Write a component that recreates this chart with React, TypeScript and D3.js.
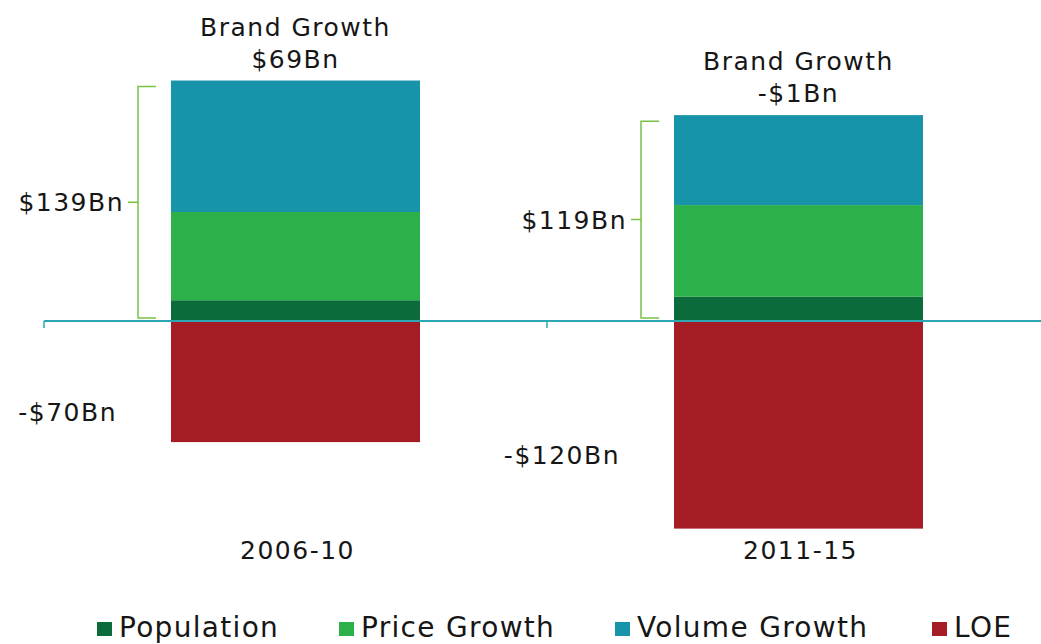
import React from 'react';
import * as d3 from 'd3';

const periods = ['2006-10', '2011-15'];
const population = [12, 14];
const priceGrowth = [51, 53];
const volumeGrowth = [76, 52];
const loe = [-70, -120];
const brandGrowth = [69, -1];
const seriesNames = ['Population', 'Price Growth', 'Volume Growth', 'LOE'];
const seriesColors = ['#0b6b3a', '#2cb04a', '#1794a9', '#a51c24'];

const W = 1041;
const H = 644;
const FONT = '"DejaVu Sans", Verdana, sans-serif';

export default function App() {
  const x = d3.scaleBand().domain(periods).range([44, 1050]).paddingInner(0).paddingOuter(0);
  const barW = 249;
  const y = d3.scaleLinear().domain([-140, 160]).range([563.2, 44.2]);
  const y0 = y(0);

  const fmt = (v: number) => (v < 0 ? `-$${Math.abs(v)}Bn` : `$${v}Bn`);

  const stacks = periods.map((p, i) => {
    const parts = [population[i], priceGrowth[i], volumeGrowth[i]];
    let acc = 0;
    const segs = parts.map((v, k) => {
      const s = { y1: acc, y2: acc + v, color: seriesColors[k] };
      acc += v;
      return s;
    });
    return { p, segs, total: acc, loe: loe[i], brand: brandGrowth[i] };
  });

  const legendX = [97, 339, 615, 932];
  const txt = { fontSize: 25, fill: '#161616', letterSpacing: 1.5 } as const;

  return (
    <svg width={W} height={H} style={{ position: 'absolute', left: 0, top: 0, background: '#fff' }} fontFamily={FONT}>
      {stacks.map((d, i) => {
        const cx = (x(d.p) as number) + x.bandwidth() / 2;
        const bx = cx - barW / 2;
        const top = y(d.total);
        const brX = bx - 33;
        const brTop = top + 6;
        const brBot = y0 - 3;
        const brMid = (brTop + brBot) / 2;
        return (
          <g key={d.p}>
            {d.segs.map((s, k) => (
              <rect key={k} x={bx} y={y(s.y2)} width={barW} height={y(s.y1) - y(s.y2)} fill={s.color} />
            ))}
            <rect x={bx} y={y0} width={barW} height={y(d.loe) - y0} fill={seriesColors[3]} />
            {/* bracket */}
            <path
              d={`M${brX + 18},${brTop}H${brX}V${brBot}H${brX + 18}M${brX},${brMid}H${brX - 10}`}
              fill="none"
              stroke="#7ac143"
              strokeWidth={1.5}
            />
            <text x={brX - 14} y={brMid + 9} textAnchor="end" {...txt}>
              {fmt(d.total)}
            </text>
            <text x={bx - 54} y={(y0 + y(d.loe)) / 2 + 39} textAnchor="end" {...txt}>
              {fmt(d.loe)}
            </text>
            <text x={cx} y={top - 45} textAnchor="middle" {...txt}>
              Brand Growth
            </text>
            <text x={cx} y={top - 13} textAnchor="middle" {...txt}>
              {fmt(d.brand)}
            </text>
            <text x={cx + 2} y={559} textAnchor="middle" {...txt}>
              {d.p}
            </text>
          </g>
        );
      })}
      {/* zero axis */}
      <line x1={44} x2={W} y1={y0} y2={y0} stroke="#2aa7b3" strokeWidth={2} />
      {[44, x(periods[1]) as number].map((tx, i) => (
        <line key={i} x1={tx} x2={tx} y1={y0} y2={y0 + 7} stroke="#2aa7b3" strokeWidth={1.5} />
      ))}
      {/* legend */}
      {seriesNames.map((n, i) => (
        <g key={n} transform={`translate(${legendX[i]},637)`}>
          <rect x={0} y={-15} width={15} height={14} fill={seriesColors[i]} />
          <text x={22} y={0} fontSize={28} fill="#161616" letterSpacing={1.3}>
            {n}
          </text>
        </g>
      ))}
    </svg>
  );
}
